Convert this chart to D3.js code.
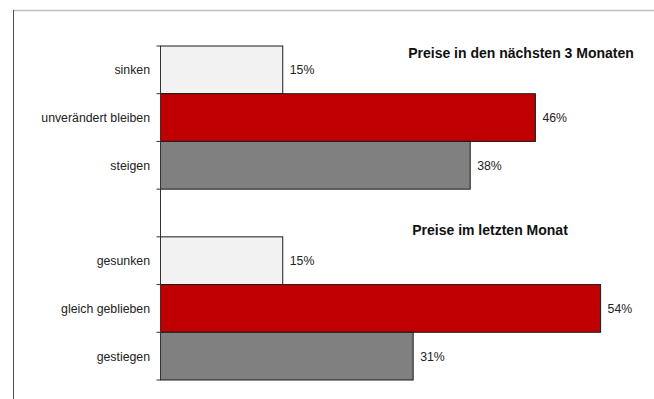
<!DOCTYPE html>
<html>
<head>
<meta charset="utf-8">
<script src="https://cdn.jsdelivr.net/npm/d3@7"></script>
<style>
  body { margin: 0; background: #fff; }
  text { font-family: "Liberation Sans", Arial, sans-serif; }
</style>
</head>
<body>
<div id="chart"></div>
<script>
// categories top to bottom, "" is the empty gap row between the two groups
const categories = ["sinken", "unverändert bleiben", "steigen", "", "gesunken", "gleich geblieben", "gestiegen"];
const values = [15, 46, 38, null, 15, 54, 31];
const barColors = ["#f2f2f2", "#c00000", "#808080", null, "#f2f2f2", "#c00000", "#808080"];
const groupTitles = ["Preise in den nächsten 3 Monaten", "Preise im letzten Monat"];

const width = 654, height = 399;
const svg = d3.select("#chart").append("svg")
  .attr("width", width).attr("height", height);

// frame
svg.append("line").attr("x1", 13).attr("x2", 654).attr("y1", 10.5).attr("y2", 10.5)
  .attr("stroke", "#c0c0c0").attr("stroke-width", 1.5);
svg.append("line").attr("x1", 13.5).attr("x2", 13.5).attr("y1", 10).attr("y2", 399)
  .attr("stroke", "#505050").attr("stroke-width", 1);

const x0 = 160.5;
const xScale = d3.scaleLinear().domain([0, 60]).range([x0, x0 + 8.15 * 60]);
const yScale = d3.scaleBand().domain(d3.range(categories.length)).range([46, 380]).padding(0);

// bars
const rows = categories.map((c, i) => ({c: c, v: values[i], col: barColors[i], i: i}))
  .filter(d => d.v !== null);

svg.selectAll("rect.bar").data(rows).enter().append("rect")
  .attr("class", "bar")
  .attr("x", xScale(0))
  .attr("y", d => yScale(d.i))
  .attr("width", d => xScale(d.v) - xScale(0))
  .attr("height", yScale.bandwidth())
  .attr("fill", d => d.col)
  .attr("stroke", "#1a1a1a")
  .attr("stroke-width", 1);

// value labels
svg.selectAll("text.val").data(rows).enter().append("text")
  .attr("class", "val")
  .attr("x", d => xScale(d.v) + 7)
  .attr("y", d => yScale(d.i) + yScale.bandwidth() / 2 + 4.5)
  .attr("font-size", 12.3)
  .attr("fill", "#222")
  .text(d => d.v + "%");

// category axis
const axis = svg.append("g");
axis.append("line").attr("x1", x0).attr("x2", x0).attr("y1", 46).attr("y2", 380)
  .attr("stroke", "#333").attr("stroke-width", 1);
const boundaries = d3.range(categories.length + 1).map(i => 46 + i * yScale.bandwidth());
axis.selectAll("line.tick").data(boundaries).enter().append("line")
  .attr("class", "tick")
  .attr("x1", x0 - 4).attr("x2", x0)
  .attr("y1", d => d).attr("y2", d => d)
  .attr("stroke", "#333");
axis.selectAll("text.cat").data(rows).enter().append("text")
  .attr("class", "cat")
  .attr("x", 150)
  .attr("y", d => yScale(d.i) + yScale.bandwidth() / 2 + 4.5)
  .attr("text-anchor", "end")
  .attr("font-size", 12.3)
  .attr("fill", "#222")
  .text(d => d.c);

// group titles
svg.append("text").attr("x", 521).attr("y", 58).attr("text-anchor", "middle")
  .attr("font-size", 14).attr("font-weight", "bold").attr("fill", "#111")
  .text(groupTitles[0]);
svg.append("text").attr("x", 490).attr("y", 235).attr("text-anchor", "middle")
  .attr("font-size", 14).attr("font-weight", "bold").attr("fill", "#111")
  .text(groupTitles[1]);
</script>
</body>
</html>
